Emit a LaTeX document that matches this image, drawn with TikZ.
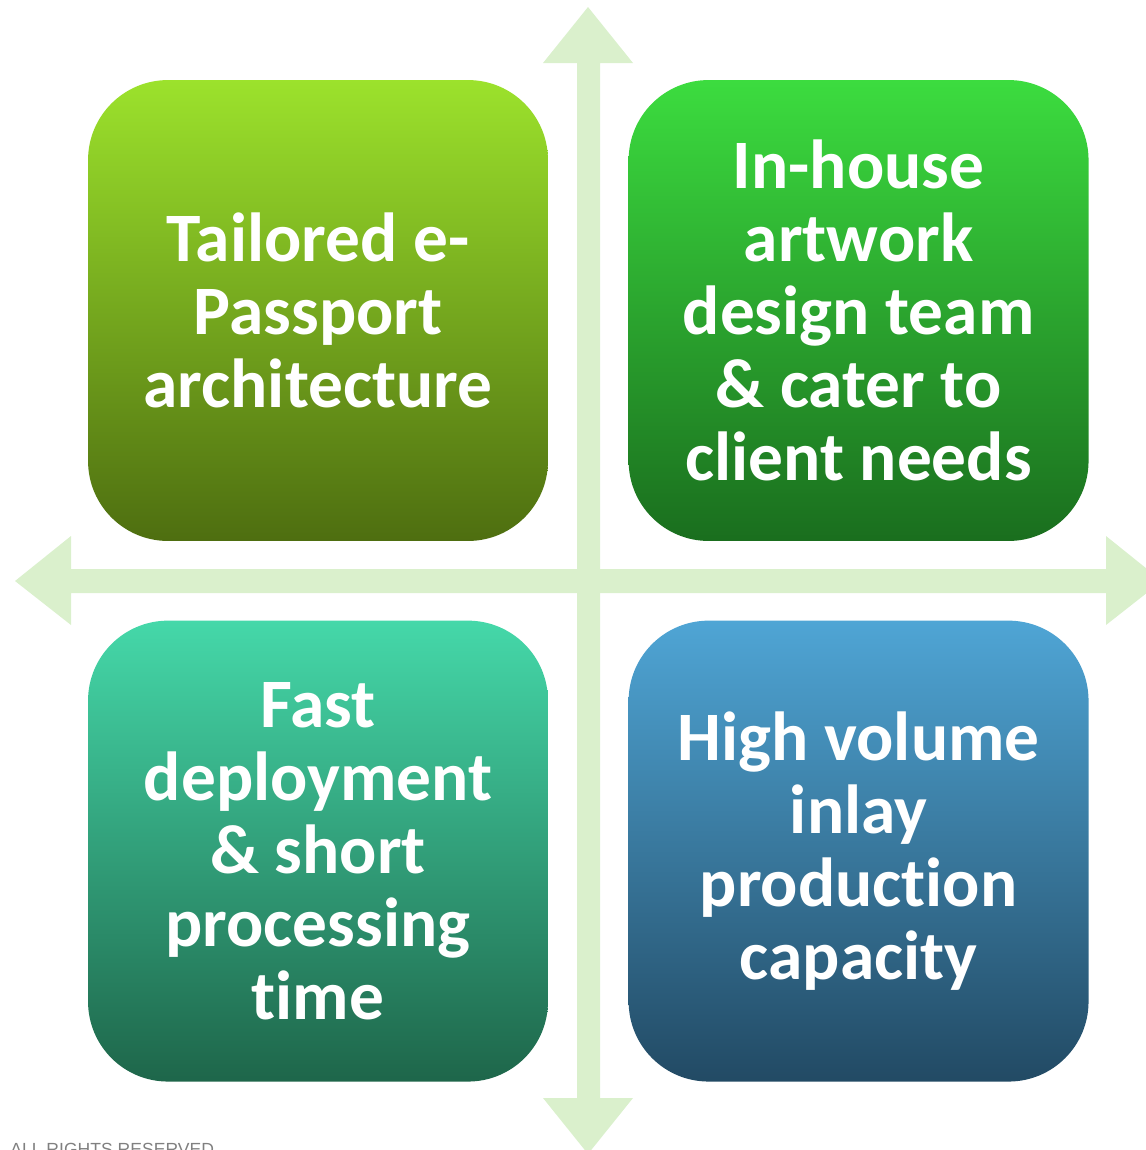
\documentclass[tikz,border=0pt]{standalone}
\usepackage{fontspec}
\setmainfont[Ligatures=NoCommon]{Carlito}
\newfontfamily\rightsfont{Liberation Sans}
\usepackage{tikz}
\usetikzlibrary{positioning}

\definecolor{axisgreen}{RGB}{218,240,204}
\definecolor{limetop}{RGB}{156,226,44}
\definecolor{limebot}{RGB}{78,110,16}
\definecolor{greentop}{RGB}{60,220,63}
\definecolor{greenbot}{RGB}{26,110,30}
\definecolor{tealtop}{RGB}{69,216,169}
\definecolor{tealbot}{RGB}{30,102,74}
\definecolor{bluetop}{RGB}{79,165,213}
\definecolor{bluebot}{RGB}{34,74,100}

\tikzset{
	quad/.style={rounded corners=1.6cm, minimum width=9.2cm, minimum height=9.22cm,
		text width=8.8cm, align=flush center, inner sep=0pt, text=white,
		font=\fontsize{39.5}{41.5}\selectfont\bfseries},
	axis/.style={fill=axisgreen, draw=none}
}

\begin{document}
\begin{tikzpicture}[x=0.02cm,y=-0.02cm,node distance=1.58cm and 1.6cm]
			\useasboundingbox (0,0) rectangle (1146,1150);
			% axes
			\path[axis] (577,1098) -- (577,63) -- (543,63) -- (588,7) -- (633,63) -- (600,63)
				-- (600,1098) -- (633,1098) -- (588,1154) -- (543,1098) -- cycle;
			\path[axis] (71,569) -- (1106,569) -- (1106,536) -- (1162,581) -- (1106,625) -- (1106,593)
				-- (71,593) -- (71,625) -- (15,581) -- (71,536) -- cycle;
			% quadrants
			\node[quad, top color=limetop, bottom color=limebot] (nodeTL) at (318,310.5)
				{Tailored e-\\Passport\\architecture};
			\node[quad, top color=greentop, bottom color=greenbot] (nodeTR) [right = of nodeTL]
				{In-house\\artwork\\design team\\\&~cater to\\client needs};
			\node[quad, top color=tealtop, bottom color=tealbot] (nodeBL) [below = of nodeTL]
				{Fast\\deployment\\\&~short\\processing\\time};
			\node[quad, top color=bluetop, bottom color=bluebot] (nodeBR) [below = of nodeTR]
				{High volume\\inlay\\production\\capacity};
			\node[anchor=north west, inner sep=0pt, text=gray, font=\rightsfont\fontsize{10}{12}\selectfont] (rights) at (10,1143)
				{ALL RIGHTS RESERVED};
		\end{tikzpicture}
\end{document}
